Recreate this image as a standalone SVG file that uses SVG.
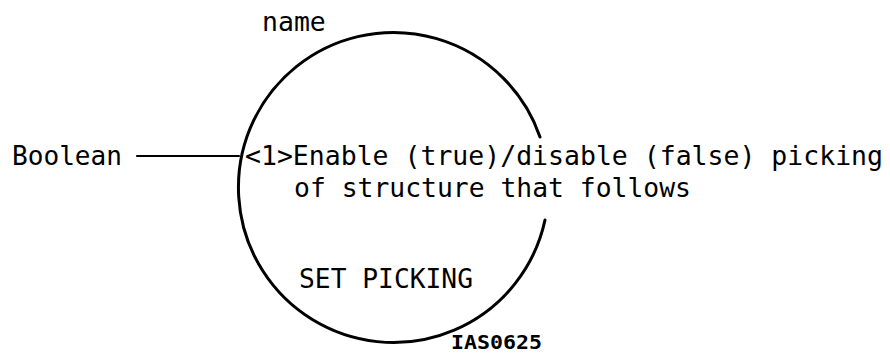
<svg xmlns="http://www.w3.org/2000/svg" width="890" height="353" viewBox="0 0 890 353">
<style>
  .t { font-family: "DejaVu Sans Mono", "Liberation Mono", monospace; font-size: 26.5px; fill: #000; }
  .id { font-family: "DejaVu Sans Mono", "Liberation Mono", monospace; font-size: 19px; font-weight: bold; fill: #000; }
  .ln { fill: none; stroke: #000; stroke-linecap: round; }
</style>
<rect width="890" height="353" fill="#fff"/>
<g id="node-set-picking">
  <path class="ln" stroke-width="3" d="M545,220 A155,155 0 1 1 540,137"/>
  <text class="t" x="262" y="31">name</text>
  <text class="t" x="245" y="165" textLength="638" lengthAdjust="spacingAndGlyphs">&lt;1&gt;Enable (true)/disable (false) picking</text>
  <text class="t" x="294" y="197" textLength="397" lengthAdjust="spacingAndGlyphs">of structure that follows</text>
  <text class="t" x="299" y="288" textLength="174" lengthAdjust="spacingAndGlyphs">SET PICKING</text>
</g>
<g id="node-boolean">
  <text class="t" x="12" y="165" textLength="110" lengthAdjust="spacingAndGlyphs">Boolean</text>
</g>
<g id="connectors">
  <line class="ln" stroke-width="2.2" x1="137" y1="156" x2="239" y2="156"/>
</g>
<text class="id" x="451" y="349" textLength="91" lengthAdjust="spacingAndGlyphs">IAS0625</text>
</svg>
